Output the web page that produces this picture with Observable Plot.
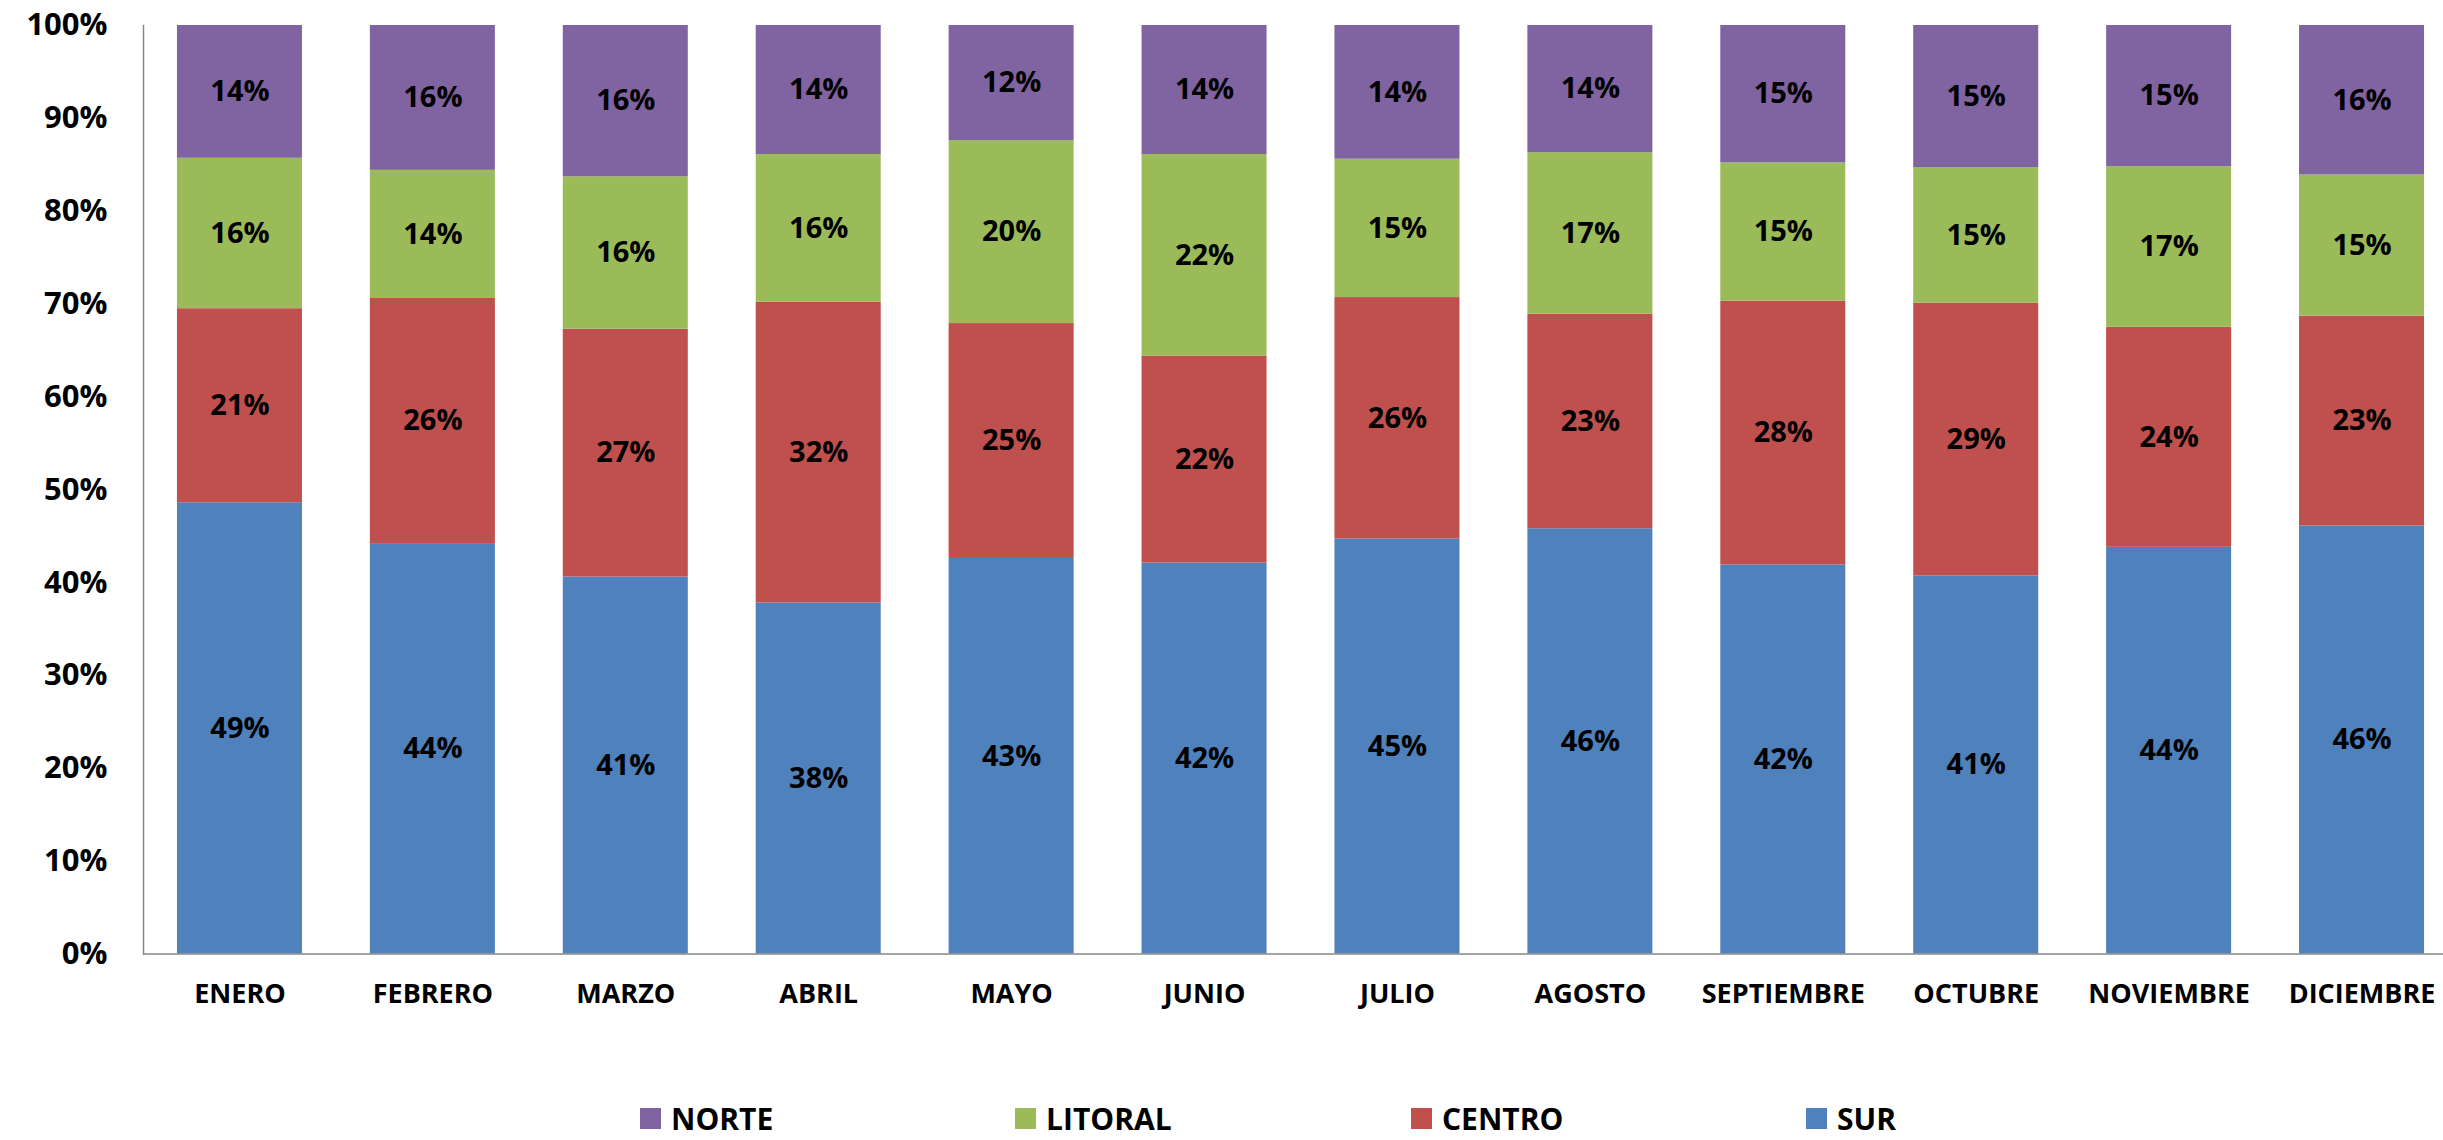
<!DOCTYPE html>
<html>
<head>
<meta charset="utf-8">
<script src="https://cdn.jsdelivr.net/npm/d3@7"></script>
<script src="https://cdn.jsdelivr.net/npm/@observablehq/plot@0.6"></script>
<style>
  html, body { margin: 0; padding: 0; background: #fff; }
  body { width: 2443px; height: 1140px; overflow: hidden; font-family: "Open Sans", sans-serif; }
  #chart svg { display: block; }
  #legend { position: relative; width: 2443px; height: 50px; font-family: "Open Sans", sans-serif; font-weight: 700; font-size: 30px; color: #000; }
  .item { position: absolute; top: 8px; display: flex; align-items: center; line-height: normal; }
  .sw { width: 21px; height: 21px; margin-right: 10px; }
</style>
</head>
<body>
<div id="chart"></div>
<div id="legend"></div>
<script>
const meses = ["ENERO","FEBRERO","MARZO","ABRIL","MAYO","JUNIO","JULIO","AGOSTO","SEPTIEMBRE","OCTUBRE","NOVIEMBRE","DICIEMBRE"];
const regiones = ["SUR","CENTRO","LITORAL","NORTE"];
const colores = ["#4F81BD","#C0504D","#9BBB59","#8064A2"];
const sur     = [48.6, 44.2, 40.6, 37.8, 42.6, 42.1, 44.7, 45.8, 41.9, 40.7, 43.8, 46.1];
const centro  = [20.9, 26.4, 26.7, 32.4, 25.3, 22.3, 26.0, 23.1, 28.4, 29.4, 23.7, 22.6];
const litoral = [16.2, 13.8, 16.4, 15.9, 19.7, 21.7, 14.9, 17.4, 14.9, 14.6, 17.3, 15.2];
const norte   = [14.3, 15.6, 16.3, 13.9, 12.4, 13.9, 14.4, 13.7, 14.8, 15.3, 15.2, 16.1];
const yTicks = [0,10,20,30,40,50,60,70,80,90,100];
const legendOrder = ["NORTE","LITORAL","CENTRO","SUR"];

const series = [sur, centro, litoral, norte];
const data = [];
meses.forEach((m, i) => {
  regiones.forEach((r, j) => data.push({mes: m, region: r, valor: series[j][i]}));
});

const W = 2443, H = 1090;
const chart = Plot.plot({
  width: W,
  height: H,
  marginTop: 25,
  marginBottom: 136.5,
  marginLeft: 143,
  marginRight: 0,
  style: {fontFamily: "Open Sans, sans-serif", background: "#fff"},
  x: {domain: meses, range: [143, 2458], paddingInner: 0.352, paddingOuter: 0.176, round: false, label: null},
  y: {domain: [0, 100], label: null},
  color: {domain: regiones, range: colores},
  marks: [
    Plot.barY(data, {x: "mes", y: "valor", fill: "region", order: regiones}),
    Plot.text(data, Plot.stackY({x: "mes", y: "valor", z: "region", order: regiones,
      text: d => Math.round(d.valor) + "%", fontSize: 29, fontWeight: 700, fill: "#000"})),
    Plot.axisY({ticks: yTicks, tickFormat: d => d + "%", tickSize: 0, tickPadding: 36,
      fontSize: 31, fontWeight: 700, fill: "#000", label: null}),
    Plot.axisX({tickSize: 0, tickPadding: 30, fontSize: 27, fontWeight: 700, fill: "#000", label: null}),
    Plot.frame({anchor: "left", stroke: "#868686", strokeWidth: 1.5}),
    Plot.ruleY([0], {stroke: "#868686", strokeWidth: 1.5})
  ]
});
chart.querySelectorAll("text").forEach(t => t.setAttribute("font-weight", "700"));
document.getElementById("chart").appendChild(chart);

const lefts = {NORTE: 640, LITORAL: 1015, CENTRO: 1411, SUR: 1806};
const legend = document.getElementById("legend");
legendOrder.forEach(r => {
  const it = document.createElement("div");
  it.className = "item";
  it.style.left = lefts[r] + "px";
  const sw = document.createElement("div");
  sw.className = "sw";
  sw.style.background = colores[regiones.indexOf(r)];
  const tx = document.createElement("span");
  tx.textContent = r;
  it.appendChild(sw); it.appendChild(tx);
  legend.appendChild(it);
});
</script>
</body>
</html>
